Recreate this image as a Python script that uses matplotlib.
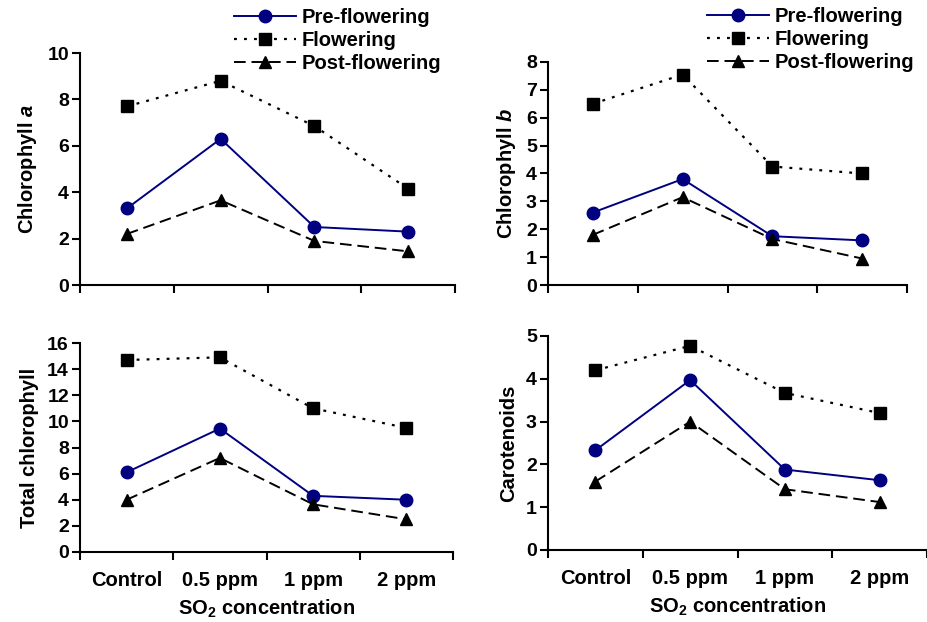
import matplotlib
matplotlib.use("Agg")
import matplotlib.pyplot as plt
from matplotlib.ticker import FixedLocator, NullFormatter, FixedFormatter

plt.rcParams['font.family'] = ['Liberation Sans', 'DejaVu Sans']
plt.rcParams['font.weight'] = 'bold'
plt.rcParams['mathtext.fontset'] = 'custom'
plt.rcParams['mathtext.rm'] = 'Liberation Sans:bold'
plt.rcParams['mathtext.it'] = 'Liberation Sans:bold:italic'
plt.rcParams['mathtext.bf'] = 'Liberation Sans:bold'

categories = ["Control", "0.5 ppm", "1 ppm", "2 ppm"]
series_names = ["Pre-flowering", "Flowering", "Post-flowering"]

chl_a_pre = [3.3, 6.3, 2.5, 2.3]
chl_a_flo = [7.7, 8.8, 6.85, 4.15]
chl_a_post = [2.2, 3.65, 1.9, 1.45]

chl_b_pre = [2.6, 3.8, 1.75, 1.6]
chl_b_flo = [6.5, 7.55, 4.25, 4.0]
chl_b_post = [1.8, 3.15, 1.65, 0.95]

tot_pre = [6.1, 9.45, 4.3, 4.0]
tot_flo = [14.7, 14.9, 11.0, 9.5]
tot_post = [4.0, 7.2, 3.65, 2.5]

car_pre = [2.33, 3.97, 1.88, 1.63]
car_flo = [4.2, 4.77, 3.67, 3.2]
car_post = [1.6, 3.0, 1.42, 1.12]

W, H = 928, 622
fig = plt.figure(figsize=(W / 100, H / 100), dpi=100)


def px_axes(l, t, r, b):
    return fig.add_axes([l / W, 1 - b / H, (r - l) / W, (b - t) / H])


panels = [
    dict(box=(80, 53, 455, 285), data=(chl_a_pre, chl_a_flo, chl_a_post),
         ymax=10, step=2, ylabel="Chlorophyll $\\mathit{a}$", xl=False,
         leg=(234, 8)),
    dict(box=(548, 62, 907, 285), data=(chl_b_pre, chl_b_flo, chl_b_post),
         ymax=8, step=1, ylabel="Chlorophyll $\\mathit{b}$", xl=False,
         leg=(707, 7)),
    dict(box=(80, 343, 453, 552), data=(tot_pre, tot_flo, tot_post),
         ymax=16, step=2, ylabel="Total chlorophyll", xl=True, leg=None),
    dict(box=(548, 336, 927, 550), data=(car_pre, car_flo, car_post),
         ymax=5, step=1, ylabel="Carotenoids", xl=True, leg=None),
]

styles = [
    dict(color='#000080', linestyle='-', linewidth=1.4, marker='o',
         markersize=9, markerfacecolor='#000080', markeredgecolor='#000080'),
    dict(color='black', linestyle=(0, (1.3, 3.2)), linewidth=1.6, marker='s',
         markersize=8.5, markerfacecolor='black', markeredgecolor='black'),
    dict(color='black', linestyle=(0, (6, 3)), linewidth=1.4, marker='^',
         markersize=8.5, markerfacecolor='black', markeredgecolor='black'),
]

xpos = [i + 0.5 for i in range(len(categories))]

for p in panels:
    ax = px_axes(*p['box'])
    for vals, st, name in zip(p['data'], styles, series_names):
        ax.plot(xpos, vals, label=name, **st)
    ax.set_xlim(0, len(categories))
    ax.set_ylim(0, p['ymax'])
    ax.set_yticks([v * p['step'] for v in range(int(p['ymax'] / p['step']) + 1)])
    ax.xaxis.set_major_locator(FixedLocator(list(range(len(categories) + 1))))
    ax.xaxis.set_major_formatter(NullFormatter())
    ax.xaxis.set_minor_locator(FixedLocator(xpos))
    if p['xl']:
        ax.xaxis.set_minor_formatter(FixedFormatter(categories))
        ax.set_xlabel("SO$_2$ concentration", fontsize=14.5, fontweight='bold',
                      labelpad=5)
    else:
        ax.xaxis.set_minor_formatter(NullFormatter())
    ax.tick_params(axis='x', which='minor', length=0, pad=14, labelsize=14.5)
    ax.tick_params(axis='x', which='major', length=6, width=1.5, direction='out')
    ax.tick_params(axis='y', length=6, width=1.5, direction='out', labelsize=14, pad=2)
    for lab in ax.get_xticklabels(minor=True) + ax.get_yticklabels():
        lab.set_fontweight('bold')
    for s in ['top', 'right']:
        ax.spines[s].set_visible(False)
    for s in ['left', 'bottom']:
        ax.spines[s].set_linewidth(1.5)
    ax.set_ylabel(p['ylabel'], fontsize=14.5, fontweight='bold', labelpad=6)
    ax.patch.set_alpha(0)
    for ln in ax.get_lines():
        ln.set_clip_on(False)
    if p['leg']:
        lx, ly = p['leg']
        ax.legend(loc='upper left', bbox_to_anchor=(lx / W, 1 - ly / H),
                  bbox_transform=fig.transFigure, frameon=False,
                  prop=dict(family='Liberation Sans', weight='bold', size=14.5),
                  handlelength=3.1, handletextpad=0.25, labelspacing=0.2,
                  borderpad=0, borderaxespad=0)

fig.savefig("out.png", dpi=100)
